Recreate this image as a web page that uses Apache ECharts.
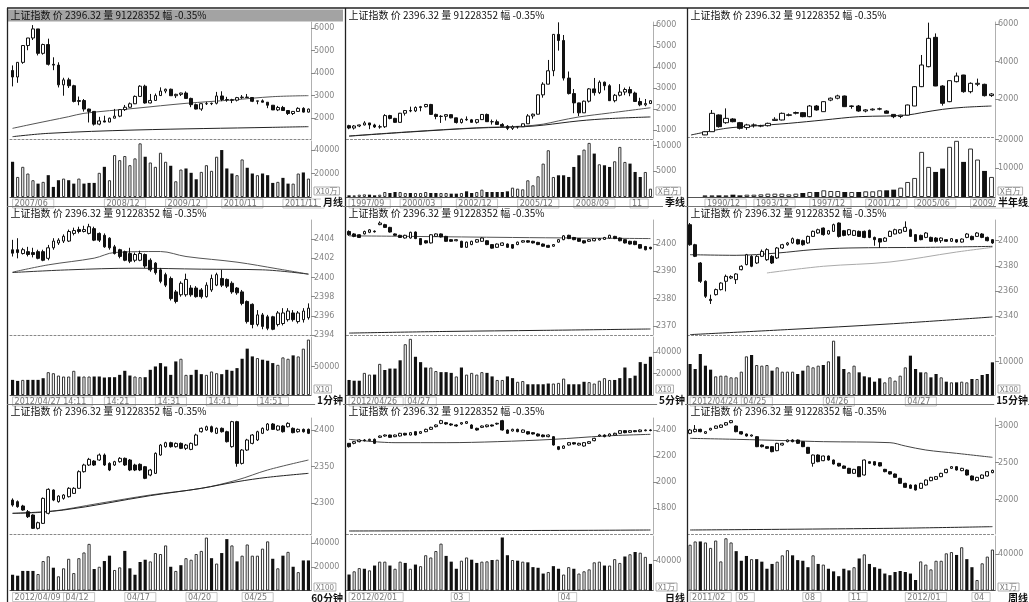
<!DOCTYPE html>
<html><head><meta charset="utf-8">
<script src="https://cdn.jsdelivr.net/npm/echarts@6/dist/echarts.min.js"></script>
<style>html,body{margin:0;padding:0;background:#fff}#c{width:1029px;height:602px}</style>
</head><body><div id="c"></div>
<script>
const TITLE = '上证指数 价 2396.32 量 91228352 幅 -0.35%';

// ---- Panel 1: 月线 ----
const p1Candles = [[4109,3820,3404,4335],[3820,4471,3563,4472],[4471,5218,4406,5219],[5218,5552,5009,5555],[5552,5955,5462,6124],[5955,4871,4778,5955],[4871,5261,4812,5300],[5261,4383,4330,5522],[4383,4348,4123,4695],[4348,3472,3357,4473],[3472,3693,2990,3786],[3693,3433,3333,3786],[3433,2736,2693,3474],[2736,2776,2566,2952],[2776,2397,2284,2842],[2397,2293,1802,2416],[2293,1728,1664,2302],[1728,1871,1678,2051],[1871,1820,1814,2100],[1820,1991,1814,2019],[1991,2082,1985,2402],[2082,2373,2037,2399],[2373,2477,2313,2579],[2477,2632,2461,2688],[2632,2959,2620,3000],[2959,3412,2948,3455],[3412,2667,2639,3478],[2667,2779,2650,3068],[2779,2996,2760,3086],[2996,3195,2980,3361],[3195,3277,3100,3306],[3277,2989,2986,3306],[2989,3051,2890,3077],[3051,3109,2976,3125],[3109,2870,2861,3181],[2870,2592,2481,2902],[2592,2398,2382,2640],[2398,2637,2319,2650],[2637,2638,2576,2717],[2638,2655,2573,2681],[2655,2978,2603,3159],[2978,2820,2748,3186],[2820,2808,2721,2940],[2808,2790,2661,2853],[2790,2905,2736,2936],[2905,2928,2847,3018],[2928,2911,2905,3067],[2911,2743,2706,2931],[2743,2762,2610,2764],[2762,2701,2695,2827],[2701,2567,2437,2710],[2567,2359,2353,2567],[2359,2468,2307,2536],[2468,2333,2319,2536],[2333,2199,2134,2339],[2199,2292,2132,2296],[2292,2428,2272,2478],[2428,2262,2242,2478],[2262,2396,2242,2420]];
const p1Volume = [30000,17100,25700,20000,14300,11400,12900,18600,8600,14300,15700,14300,11400,15700,11400,12000,12000,20600,25700,14300,35700,31400,34900,27100,32900,45700,34300,29400,25700,37700,30000,26600,13400,23400,24300,20600,15100,21400,27100,22300,34300,40000,24300,20000,18600,32000,24900,20000,18600,20000,18600,12000,12900,16300,11400,11400,20000,20900,15700];
const p1MaA = [[0,1541],[4,1734],[11,2059],[14,2207],[24,2429],[34,2651],[43,2799],[51,2947],[58,2992]];
const p1MaB = [[0,1171],[7,1319],[24,1467],[51,1586],[58,1615]];
const p1PriceTicks = [2000,3000,4000,5000,6000];
const p1VolTicks = [20000,40000];
const p1Dates = [[0,'2007/06'],[18,'2008/12'],[30,'2009/12'],[41,'2010/11'],[53,'2011/11']];

// ---- Panel 2: 季线 ----
const p2Candles = [[1210,1097,1041,1250],[1097,1194,1025,1240],[1194,1243,1140,1260],[1243,1339,1220,1422],[1339,1242,1043,1340],[1242,1147,1100,1300],[1147,1158,1064,1250],[1158,1689,1100,1756],[1689,1556,1510,1725],[1556,1367,1342,1580],[1367,1801,1361,1815],[1801,1928,1690,1929],[1928,1910,1850,2114],[1910,2073,1857,2125],[2073,2112,1893,2148],[2112,2218,2080,2242],[2218,1746,1723,2245],[1746,1646,1514,1780],[1646,1655,1339,1710],[1655,1733,1455,1748],[1733,1581,1560,1750],[1581,1358,1311,1590],[1358,1510,1311,1550],[1510,1487,1440,1649],[1487,1367,1358,1528],[1367,1497,1307,1510],[1497,1742,1492,1760],[1742,1399,1386,1783],[1399,1396,1259,1500],[1396,1267,1260,1496],[1267,1181,1165,1328],[1181,1080,998,1236],[1080,1155,1004,1223],[1155,1161,1067,1169],[1161,1299,1150,1306],[1299,1672,1290,1757],[1672,1753,1541,1787],[1753,2675,1745,2698],[2675,3183,2541,3275],[3183,3820,3175,4335],[3820,5552,3563,5555],[5552,5261,4778,6124],[5261,3472,3357,5522],[3472,2736,2693,3786],[2736,2293,1802,2952],[2293,1820,1664,2302],[1820,2373,1814,2402],[2373,2959,2313,3000],[2959,2779,2639,3478],[2779,3277,2712,3361],[3277,3109,2890,3306],[3109,2398,2382,3181],[2398,2655,2319,2717],[2655,2808,2603,3186],[2808,2928,2661,3018],[2928,2762,2610,3067],[2762,2359,2353,2827],[2359,2199,2134,2536],[2199,2262,2132,2478],[2262,2396,2242,2420]];
const p2Volume = [325,325,455,520,455,325,455,975,780,975,975,780,780,780,780,975,780,780,780,780,650,650,780,1105,780,975,1430,975,975,975,975,1105,1820,1625,1495,3250,2275,4030,6500,9100,3900,4225,4225,3900,5850,8125,9230,10530,8450,6370,6175,5850,6955,9750,6825,6500,4875,3900,4875,1625];
const p2MaA = [[0,719],[12,922],[25,1109],[34,1187],[38,1281],[41,1437],[45,1624],[51,1811],[59,2061]];
const p2MaB = [[0,710],[12,910],[25,1095],[34,1156],[38,1234],[45,1437],[51,1546],[59,1624]];
const p2PriceTicks = [1000,2000,3000,4000,5000,6000];
const p2VolTicks = [5000,10000];
const p2Dates = [[0,'1997/09'],[10,'2000/03'],[21,'2002/12'],[33,'2005/12'],[44,'2008/09'],[55,'11']];

// ---- Panel 3: 半年线 (two empty slots before the first candle) ----
const p3Candles = [[110,280,100,300],[283,1257,280,1434],[1170,550,500,1200],[760,990,700,1520],[956,814,780,1000],[761,460,400,800],[500,640,380,700],[620,640,500,720],[580,600,520,650],[600,726,560,760],[880,940,850,1050],[903,1257,880,1300],[1150,1180,1100,1250],[1260,1300,1200,1350],[1292,1080,1050,1320],[1080,1646,1050,1700],[1646,1434,1400,1700],[1345,1876,1340,1900],[1960,2060,1900,2100],[2060,2180,2000,2245],[2177,1611,1600,2200],[1620,1650,1500,1680],[1646,1380,1340,1700],[1380,1440,1310,1480],[1440,1480,1400,1520],[1480,1500,1420,1560],[1380,1260,1250,1420],[1200,1080,1000,1210],[1090,1160,1000,1180],[1160,1700,1150,1720],[1646,2673,1640,2700],[2673,3823,2650,4354],[3735,5239,3700,6071],[5292,2708,2700,5500],[2708,1788,1664,2750],[1876,2991,1850,3000],[2938,3239,2900,3420],[3292,2407,2350,3300],[2407,2850,2319,2900],[2800,2850,2700,3100],[2796,2195,2150,2830],[2200,2283,2130,2330]];
const p3Volume = [580,580,580,580,810,580,810,810,930,1160,1160,1160,930,1160,1400,1740,1740,2330,2090,2090,1740,1740,1740,1980,1980,2330,2330,2560,3260,5230,6630,15700,10470,8720,9890,17450,19540,12210,16860,13030,9070,6980];
const p3MaA = [[0,106],[5,460],[9,584],[14,726],[19,903],[24,1080],[28,1115],[31,1168],[33,1292],[36,1469],[39,1575],[43,1646]];
const p3PriceTicks = [2000,4000,6000];
const p3VolTicks = [10000,20000];
const p3Dates = [[0,'1990/12'],[7,'1993/12'],[15,'1997/12'],[23,'2001/12'],[30,'2005/06'],[38,'2009/06']];

// ---- Panel 4: 1分钟 ----
const p4Candles = [[2402.89,2402.54,2402.19,2403.93],[2402.9,2402.6,2402.0,2404.1],[2402.5,2402.9,2402.4,2403.1],[2402.7,2402.4,2402.2,2403.2],[2402.6,2402.4,2402.1,2403.1],[2402.7,2402.0,2401.9,2402.9],[2402.7,2401.8,2401.7,2402.9],[2402.0,2403.1,2401.8,2403.4],[2403.1,2403.8,2402.9,2404.1],[2403.6,2403.9,2403.4,2404.1],[2403.8,2404.3,2403.6,2404.5],[2403.8,2404.8,2403.7,2405.0],[2404.6,2404.9,2404.4,2405.2],[2405.0,2404.8,2404.6,2405.3],[2404.8,2405.0,2404.7,2405.4],[2404.6,2405.3,2404.5,2405.6],[2405.1,2403.9,2403.8,2405.3],[2404.6,2403.9,2403.7,2404.7],[2404.4,2403.2,2403.1,2404.6],[2404.1,2403.1,2402.9,2404.2],[2403.2,2402.5,2402.4,2403.4],[2402.9,2402.2,2402.0,2403.0],[2402.7,2401.8,2401.7,2402.8],[2402.5,2401.7,2401.5,2403.1],[2401.8,2402.4,2401.6,2402.6],[2401.8,2402.5,2401.7,2402.8],[2402.4,2401.2,2401.0,2402.5],[2401.8,2400.8,2400.6,2402.0],[2401.5,2400.5,2400.3,2401.6],[2400.8,2399.6,2399.4,2401.0],[2400.3,2399.2,2399.0,2400.5],[2399.9,2397.8,2397.6,2400.1],[2398.5,2397.5,2397.3,2398.7],[2398.2,2399.4,2398.0,2399.6],[2398.2,2399.8,2398.0,2400.4],[2398.9,2398.2,2398.0,2399.2],[2398.9,2398.0,2397.9,2399.1],[2398.7,2398.0,2397.8,2398.9],[2398.0,2399.2,2397.9,2399.5],[2398.7,2399.9,2398.5,2400.3],[2399.2,2400.3,2399.1,2400.5],[2399.9,2399.2,2399.0,2400.8],[2399.8,2399.1,2398.9,2399.9],[2399.4,2398.5,2398.3,2399.6],[2398.9,2398.4,2398.2,2399.0],[2398.5,2397.3,2397.1,2398.7],[2397.5,2395.4,2395.2,2397.6],[2397.2,2395.1,2394.7,2397.3],[2395.1,2396.1,2394.9,2396.6],[2396.1,2394.9,2394.6,2396.3],[2395.9,2394.7,2394.5,2396.1],[2395.9,2394.6,2394.5,2396.0],[2395.1,2396.3,2394.9,2396.5],[2395.2,2396.3,2395.0,2396.8],[2395.6,2396.5,2395.4,2396.8],[2396.3,2395.6,2395.4,2396.6],[2395.4,2396.3,2395.2,2396.5],[2395.6,2396.5,2395.3,2396.8],[2395.8,2396.8,2395.6,2397.3]];
const p4Volume = [26500,24700,26500,26500,26500,26500,29400,40000,38200,34100,32400,32400,42400,32400,32400,32400,32400,32400,30600,31200,31200,35300,42400,34100,32400,31200,31200,44100,50000,55900,50000,35300,58800,63500,35300,35300,44100,36500,35300,41200,38200,36500,44100,42400,47100,63500,81200,67600,64700,61800,60000,55900,52900,65900,63500,69400,67600,81200,97100];
const p4MaA = [[0,2400.56],[7,2401.32],[16,2402.02],[20,2402.61],[29,2402.71],[34,2402.19],[44,2401.6],[52,2400.9],[58,2400.35]];
const p4MaB = [[0,2400.52],[11,2400.8],[24,2400.97],[37,2400.87],[49,2400.8],[58,2400.35]];
const p4PriceTicks = [2394,2396,2398,2400,2402,2404];
const p4VolTicks = [50000];
const p4Dates = [[0,'2012/04/27 14:11'],[18,'14:21'],[28,'14:31'],[38,'14:41'],[48,'14:51']];

// ---- Panel 5: 5分钟 ----
const p5Candles = [[2404.6,2403.4,2403.0,2405.0],[2403.7,2402.8,2402.5,2404.0],[2403.4,2402.4,2402.2,2403.6],[2403.7,2404.6,2403.5,2404.9],[2404.3,2405.2,2404.0,2405.5],[2404.7,2404.5,2404.2,2405.0],[2407.1,2407.7,2406.9,2408.3],[2407.1,2406.1,2405.9,2407.4],[2406.1,2404.4,2404.2,2406.3],[2403.7,2403.2,2403.0,2403.9],[2403.2,2402.4,2402.2,2403.4],[2402.2,2403.2,2402.0,2403.4],[2402.2,2404.3,2402.0,2404.5],[2404.4,2402.0,2401.8,2404.6],[2402.0,2399.8,2399.6,2402.2],[2401.2,2400.4,2400.2,2401.4],[2400.4,2403.4,2400.2,2403.6],[2402.8,2403.7,2402.6,2403.9],[2403.7,2402.6,2402.4,2403.9],[2402.8,2401.0,2400.8,2403.0],[2401.6,2401.0,2400.8,2401.8],[2401.2,2401.6,2401.0,2401.8],[2401.0,2398.8,2398.6,2401.2],[2398.8,2400.7,2398.6,2400.9],[2399.8,2401.0,2399.6,2401.2],[2400.7,2401.6,2400.5,2401.8],[2401.0,2402.2,2400.8,2402.4],[2401.2,2399.8,2399.6,2401.4],[2399.8,2398.5,2398.3,2400.0],[2398.8,2400.0,2398.6,2400.2],[2399.5,2400.4,2399.3,2400.6],[2400.0,2398.8,2398.6,2400.2],[2399.8,2398.5,2398.3,2400.0],[2399.8,2400.7,2399.6,2400.9],[2400.7,2401.2,2400.5,2401.4],[2401.2,2400.7,2400.5,2401.4],[2401.0,2400.4,2400.2,2401.2],[2400.6,2399.8,2399.6,2400.8],[2400.0,2399.2,2399.0,2400.2],[2399.5,2398.8,2398.6,2399.7],[2399.2,2399.8,2399.0,2400.0],[2400.7,2401.6,2400.5,2401.8],[2401.6,2403.0,2401.4,2403.3],[2403.2,2402.0,2401.8,2403.4],[2402.4,2401.6,2401.4,2402.6],[2402.0,2401.0,2400.8,2402.2],[2401.2,2400.4,2400.2,2401.4],[2401.0,2401.6,2400.8,2401.8],[2401.2,2402.0,2401.0,2402.2],[2401.5,2402.0,2401.3,2402.2],[2401.7,2402.4,2401.5,2402.6],[2402.2,2403.2,2402.0,2403.4],[2402.8,2402.0,2401.8,2403.0],[2402.2,2401.2,2401.0,2402.4],[2401.6,2400.4,2400.2,2401.8],[2401.0,2400.0,2399.8,2401.2],[2401.0,2399.8,2399.6,2401.2],[2399.8,2398.5,2398.3,2400.0],[2399.1,2397.9,2397.7,2399.3],[2398.8,2398.3,2398.0,2399.0]];
const p5Volume = [14000,13300,13300,20600,19000,19000,29000,23300,24600,24600,32300,47300,52300,35600,30600,25600,25600,22300,21300,21300,20600,17300,25600,19000,20600,19000,21300,20600,17300,14000,14000,17300,15700,12300,13000,10000,10000,10000,10000,10700,10700,11300,15300,10000,10000,10000,12300,12000,10700,13300,15700,14000,14000,15700,25600,15700,18000,30600,29000,35600];
const p5MaA = [[0,2403.0],[12,2402.8],[32,2402.4],[45,2402.2],[59,2402.0]];
const p5MaB = [[0,2367.4],[19,2368.0],[38,2368.4],[59,2368.9]];
const p5PriceTicks = [2370,2380,2390,2400];
const p5VolTicks = [20000,40000];
const p5Dates = [[0,'2012/04/26'],[11,'04/27']];

// ---- Panel 6: 15分钟 ----
const p6Candles = [[2412.7,2396.8,2396,2414],[2396.8,2387.6,2387,2397.5],[2382.3,2367.8,2366.5,2383],[2367.8,2355.9,2354.6,2368.5],[2353.5,2352.5,2349.8,2357.2],[2357.2,2361.2,2356.5,2362],[2361.2,2366.4,2360.5,2367],[2367.8,2371.7,2359.8,2373.1],[2370.4,2371.5,2369.5,2372.5],[2369.1,2373.6,2365.7,2374.2],[2377.0,2379.7,2376.5,2380.5],[2381.0,2388.9,2380.5,2389.5],[2387.6,2379.7,2379,2388.5],[2382.3,2387.6,2381.5,2388.5],[2387.6,2391.5,2387,2393],[2384.9,2392.9,2384,2394],[2387.6,2382.3,2381.5,2388.5],[2386.3,2394.2,2385.5,2395],[2394.2,2396.8,2393.5,2397.5],[2396.8,2398.2,2396,2399],[2398.2,2401.6,2397.5,2402.5],[2400.8,2397.4,2397,2401.5],[2400.0,2396.8,2396,2400.8],[2398.2,2403.4,2397.5,2404],[2403.4,2407.4,2403,2408],[2406.1,2408.7,2405.5,2409.5],[2410.0,2404.8,2404,2410.5],[2405.3,2407.9,2404.8,2408.5],[2407.4,2412.7,2407,2413.5],[2414.0,2403.4,2402.5,2414.5],[2407.9,2404.2,2403.5,2408.5],[2404.8,2408.7,2404,2409.2],[2404.2,2407.9,2403.8,2408.5],[2407.4,2403.4,2403,2408],[2407.4,2402.6,2402,2408],[2408.2,2402.6,2402,2408.8],[2402.6,2400.8,2396,2403.2],[2401.6,2398.9,2394.2,2402],[2399.5,2402.1,2399,2402.8],[2403.4,2407.4,2403,2408],[2405.3,2408.7,2405,2409.5],[2406.1,2408.7,2405.5,2409.2],[2407.4,2410.6,2407,2415.3],[2408.7,2403.4,2403,2409.5],[2404.8,2399.5,2399,2405.3],[2404.2,2400.8,2400.3,2404.8],[2402.6,2406.1,2402,2406.8],[2402.6,2399.5,2399,2403.2],[2402.1,2399.5,2398.5,2402.8],[2400.0,2402.1,2398.2,2402.6],[2400.8,2399.5,2399,2401.3],[2399.5,2401.6,2399,2402.1],[2400.8,2398.9,2398.4,2401.3],[2398.9,2401.3,2398.4,2401.8],[2402.6,2405.3,2402,2406],[2403.4,2400.8,2400.3,2404],[2403.4,2406.1,2403,2406.8],[2405.3,2402.6,2402,2406],[2402.6,2400.0,2399.5,2403.2],[2400.8,2398.2,2397.5,2401.3]];
const p6Volume = [9300,7800,12300,8800,7600,5600,5800,5800,5300,5300,7000,11600,12000,9000,8800,9000,7300,8300,7000,7000,7000,6300,7300,8800,8300,8800,9000,10100,16300,11600,7800,6800,8800,6800,5600,5300,4000,5000,3800,5300,4300,5800,8300,11800,7800,6800,6800,5300,6300,5300,4000,3800,3800,4000,3800,4800,4800,6000,6300,9800];
const p6MaA = [[0,2388.9],[9,2388.4],[17,2390.2],[24,2392.9],[31,2394.2],[46,2394.7],[59,2395.5]];
const p6MaB = [[15,2374.4],[26,2379.7],[39,2383.1],[52,2391.0],[59,2394.7]];
const p6MaC = [[0,2325.5],[19,2329.5],[39,2334.0],[59,2339.5]];
const p6PriceTicks = [2340,2360,2380,2400];
const p6VolTicks = [10000];
const p6Dates = [[0,'2012/04/24'],[10,'04/25'],[26,'04/26'],[42,'04/27']];

// ---- Panel 7: 60分钟 ----
const p7Candles = [[2304.5,2297.7,2295.5,2306.8],[2302.3,2295.5,2294,2304],[2296.4,2290.9,2290,2298],[2288.6,2281.8,2280,2290.9],[2284.1,2265.9,2265,2285],[2265.9,2273.6,2264.4,2275],[2272.7,2306.8,2272,2308],[2286.4,2319.1,2285,2320.5],[2318.2,2304.5,2303,2319],[2302.3,2310.0,2301,2311],[2306.8,2311.4,2305,2312.5],[2309.1,2320.5,2308,2322],[2313.6,2320.5,2313,2322],[2320.5,2343.2,2320,2345],[2343.2,2352.3,2342,2354],[2352.3,2360.0,2351,2362],[2357.7,2352.3,2351,2359],[2359.1,2365.9,2358,2368],[2365.9,2352.3,2351,2368],[2354.5,2345.5,2344,2356],[2352.3,2356.8,2351,2358],[2356.8,2361.4,2355.5,2363],[2361.4,2352.3,2351,2362.5],[2359.1,2345.5,2344,2360.5],[2352.3,2345.5,2344,2354],[2353.2,2345.5,2344,2354.5],[2350.0,2334.1,2333,2351],[2338.6,2345.5,2337,2347],[2340.9,2368.2,2340,2369.5],[2365.9,2379.5,2365,2381],[2377.3,2382.7,2376,2384],[2382.7,2377.3,2376,2384],[2377.3,2381.8,2376,2383],[2381.8,2375.0,2374,2383],[2375.0,2379.5,2372.7,2381],[2373.6,2381.8,2372.5,2383],[2379.5,2393.2,2378.5,2395],[2397.7,2402.3,2396.5,2403.5],[2400.0,2404.5,2399,2406],[2404.5,2397.7,2396.5,2406],[2395.5,2402.3,2394.5,2403.5],[2402.3,2397.7,2396.5,2403.5],[2397.7,2384.1,2383,2399],[2377.3,2411.4,2376,2412.5],[2411.4,2354.5,2350,2412.5],[2354.5,2372.7,2353,2374],[2372.7,2386.4,2371.5,2388],[2381.8,2393.2,2380.5,2394.5],[2386.4,2397.7,2385,2399],[2395.5,2402.3,2394.5,2403.5],[2400.0,2408.2,2399,2409.5],[2408.2,2400.9,2400,2409.5],[2400.0,2405.5,2399,2406.5],[2405.5,2397.7,2396.5,2406.5],[2404.5,2409.1,2403.5,2410.5],[2402.3,2396.4,2395.5,2403.5],[2397.7,2400.9,2396.5,2402],[2400.9,2397.7,2396.5,2402],[2400.9,2395.5,2394.5,2402]];
const p7Volume = [13300,12500,16500,16500,16500,13900,24800,28800,19200,12000,18700,26700,14700,27200,32000,39200,18100,20000,24800,29300,17300,19500,33300,18700,13300,24000,25900,24500,31500,30700,37900,20000,16500,21300,27200,25900,30700,33300,44500,27200,22700,31500,43200,37900,24500,29300,38700,29300,29300,35200,41300,26700,18700,29300,32500,20000,15500,25300,25300];
const p7MaA = [[0,2286.4],[7,2288.6],[17,2300],[27,2311.4],[37,2320.5],[44,2331.8],[50,2345.5],[58,2359.1]];
const p7MaB = [[0,2286.4],[10,2290.9],[27,2310.5],[37,2320.5],[44,2329.5],[50,2335.5],[58,2340.9]];
const p7PriceTicks = [2300,2350,2400];
const p7VolTicks = [20000,40000];
const p7Dates = [[0,'2012/04/09'],[10,'04/12'],[22,'04/17'],[34,'04/20'],[45,'04/25']];

// ---- Panel 8: 日线 ----
const p8Candles = [[2297.4,2271.8,2265,2300],[2297.4,2310.3,2290,2315],[2310.3,2323.1,2305,2328],[2323.1,2317.9,2312,2330],[2317.9,2328.2,2312,2333],[2328.2,2297.4,2292,2335],[2343.6,2353.8,2338,2358],[2353.8,2361.5,2348,2366],[2361.5,2343.6,2340,2364],[2348.7,2361.5,2345,2365],[2353.8,2374.4,2350,2378],[2374.4,2361.5,2358,2378],[2361.5,2379.5,2358,2383],[2387.2,2361.5,2358,2390],[2374.4,2387.2,2370,2391],[2387.2,2405.1,2383,2410],[2405.1,2420.5,2400,2425],[2425.6,2438.5,2420,2443],[2451.3,2471.8,2445,2478],[2456.4,2446.2,2440,2462],[2446.2,2438.5,2432,2452],[2438.5,2430.8,2425,2444],[2446.2,2456.4,2440,2460],[2451.3,2464.1,2446,2468],[2438.5,2412.8,2408,2444],[2412.8,2400,2395,2418],[2420.5,2430.8,2415,2435],[2425.6,2438.5,2420,2442],[2438.5,2430.8,2426,2442],[2446.2,2451.3,2440,2456],[2471.8,2400,2395,2478],[2400,2374.4,2370,2405],[2392.3,2405.1,2388,2410],[2405.1,2387.2,2383,2410],[2382.1,2400,2378,2404],[2387.2,2369.2,2365,2392],[2379.5,2369.2,2365,2384],[2369.2,2353.8,2350,2374],[2361.5,2348.7,2344,2366],[2348.7,2361.5,2344,2366],[2348.7,2284.6,2280,2353],[2271.8,2251.3,2245,2276],[2259.0,2276.9,2254,2282],[2284.6,2302.6,2280,2307],[2302.6,2292.3,2288,2307],[2284.6,2297.4,2280,2302],[2276.9,2302.6,2272,2307],[2297.4,2310.3,2292,2315],[2317.9,2335.9,2313,2340],[2353.8,2361.5,2349,2366],[2361.5,2348.7,2344,2366],[2353.8,2369.2,2349,2374],[2361.5,2374.4,2357,2379],[2374.4,2394.9,2370,2399],[2394.9,2379.5,2375,2399],[2382.1,2394.9,2378,2399],[2394.9,2387.2,2383,2399],[2387.2,2400,2383,2404],[2394.9,2400,2390,2404],[2400,2396.3,2390,2405]];
const p8Volume = [21500,25800,30100,29200,27100,33500,38700,38700,33500,29200,38700,37000,29200,34800,32700,47300,44300,52900,62800,46400,38700,29200,40000,44300,41300,37000,38700,39100,40900,41300,71000,47300,40900,40000,38700,37800,31400,30500,22800,24900,32700,29200,21500,31400,29200,22800,25800,28400,37800,38700,33500,33500,42100,37000,45600,48600,51600,50700,45100,35700];
const p8MaA = [[0,2328.2],[9,2302.6],[19,2302.6],[29,2310.3],[40,2328.2],[50,2353.8],[59,2366.7]];
const p8MaB = [[0,1623.1],[46,1628.2],[59,1630.8]];
const p8PriceTicks = [1800,2000,2200,2400];
const p8VolTicks = [40000];
const p8Dates = [[0,'2012/02/01'],[20,'03'],[41,'04']];

// ---- Panel 9: 周线 ----
const p9Candles = [[2896,2941,2885,2955],[2918.5,2950,2910,3008],[2950,2918.5,2910,2958],[2896,2918.5,2888,2925],[2941,2963.5,2935,2970],[2963.5,2995,2958,3000],[2977,3008.5,2970,3015],[3008.5,3040,3000,3048],[3040,3067,3032,3075],[2995,2918.5,2910,3002],[2918.5,2887,2880,2925],[2887,2860,2852,2893],[2860,2873.5,2852,2880],[2851,2716,2710,2860],[2738.5,2716,2706,2745],[2716,2693.5,2685,2722],[2716,2648.5,2640,2722],[2662,2761,2655,2768],[2738.5,2761,2730,2768],[2783.5,2806,2775,2812],[2806,2783.5,2775,2815],[2806,2761,2752,2812],[2783.5,2716,2710,2790],[2707,2626,2618,2712],[2491,2603.5,2446,2610],[2603.5,2513.5,2505,2612],[2527,2590,2520,2596],[2590,2536,2528,2596],[2536,2482,2475,2542],[2491,2455,2448,2497],[2455,2423.5,2416,2461],[2423.5,2356,2348,2430],[2356,2410,2348,2416],[2446,2311,2305,2452],[2333.5,2536,2326,2542],[2513.5,2491,2484,2520],[2513.5,2468.5,2461,2520],[2500,2455,2448,2506],[2410,2378.5,2370,2416],[2378.5,2347,2340,2385],[2347,2302,2295,2353],[2288.5,2221,2214,2295],[2221,2167,2160,2228],[2198.5,2153.5,2146,2205],[2198.5,2131,2125,2205],[2153.5,2221,2146,2228],[2198.5,2266,2191,2273],[2257,2302,2250,2309],[2275,2311,2268,2318],[2311,2356,2304,2363],[2365,2410,2358,2417],[2423.5,2446,2416,2452],[2446,2401,2394,2452],[2392,2423.5,2385,2430],[2401,2333.5,2326,2408],[2320,2266,2259,2327],[2257,2302,2250,2309],[2288.5,2333.5,2281,2340],[2320,2378.5,2313,2385],[2365,2396,2358,2405]];
const p9Volume = [50600,54200,54200,53100,47100,55200,32200,57700,53100,43500,32900,38200,34700,34700,31900,24100,29400,31900,38900,44600,38900,33600,32900,25800,38900,29400,28700,24100,21200,15900,24100,22300,25800,35400,40000,29400,25800,24100,18800,17000,20500,21600,20500,18800,11700,32200,28700,23400,32900,32900,41100,42500,39300,47800,34700,25800,11700,30100,37500,45300];
const p9MaA = [[0,2828.5],[9,2815],[19,2797],[26,2783.5],[39,2770],[42,2725],[46,2671],[52,2626],[59,2572]];
const p9MaB = [[0,1591],[39,1613.5],[59,1636]];
const p9PriceTicks = [2000,2500,3000];
const p9VolTicks = [40000];
const p9Dates = [[0,'2011/02'],[9,'05'],[22,'08'],[31,'11'],[42,'2012/01'],[55,'04']];

// ---- layout ----
const COLS = [
  {border:7.5, left:10, width:301, end:343},
  {border:345.5, left:346.5, width:306.5, end:685},
  {border:687.5, left:687.5, width:307.5, end:1028}
];
const ROWS = [
  {titleY:15.5, cTop:22, cH:117, vTop:141, vH:56, sep:206.5},
  {titleY:213, cTop:220, cH:115, vTop:337, vH:58, sep:404.5},
  {titleY:411, cTop:418, cH:116, vTop:536, vH:57, sep:null}
];
const PANELS = [
  {row:0,col:0,candles:p1Candles,volume:p1Volume,mas:[[p1MaA,'#555'],[p1MaB,'#222']],yMin:1068,yMax:6262,yTicks:p1PriceTicks,vMax:47700,vTicks:p1VolTicks,dates:p1Dates,period:'月线',unit:'X10万',lead:0,bw:'62%'},
  {row:0,col:1,candles:p2Candles,volume:p2Volume,mas:[[p2MaA,'#555'],[p2MaB,'#222']],yMin:575,yMax:6140,yTicks:p2PriceTicks,vMax:10900,vTicks:p2VolTicks,dates:p2Dates,period:'季线',unit:'X百万',lead:0,bw:'62%'},
  {row:0,col:2,candles:p3Candles,volume:p3Volume,mas:[[p3MaA,'#222']],yMin:-106,yMax:6106,yTicks:p3PriceTicks,vMax:20000,vTop:139.5,vTicks:p3VolTicks,dates:p3Dates,period:'半年线',unit:'X百万',lead:2,bw:'70%'},
  {row:1,col:0,candles:p4Candles,volume:p4Volume,mas:[[p4MaA,'#555'],[p4MaB,'#333']],yMin:2394,yMax:2406,yTicks:p4PriceTicks,vMax:101600,vTicks:p4VolTicks,dates:p4Dates,period:'1分钟',unit:'X10',lead:0,bw:'62%'},
  {row:1,col:1,candles:p5Candles,volume:p5Volume,mas:[[p5MaA,'#555'],[p5MaB,'#222']],yMin:2366.7,yMax:2408.8,yTicks:p5PriceTicks,vMax:54000,vTicks:p5VolTicks,dates:p5Dates,period:'5分钟',unit:'X10',lead:0,bw:'62%'},
  {row:1,col:2,candles:p6Candles,volume:p6Volume,mas:[[p6MaA,'#333'],[p6MaB,'#aaa'],[p6MaC,'#222']],yMin:2325.2,yMax:2416.4,yTicks:p6PriceTicks,vMax:17400,vTicks:p6VolTicks,dates:p6Dates,period:'15分钟',unit:'X100',lead:0,bw:'62%'},
  {row:2,col:0,candles:p7Candles,volume:p7Volume,mas:[[p7MaA,'#555'],[p7MaB,'#222']],yMin:2258.2,yMax:2416.4,yTicks:p7PriceTicks,vMax:45800,vTicks:p7VolTicks,dates:p7Dates,period:'60分钟',unit:'X100',lead:0,bw:'62%'},
  {row:2,col:1,candles:p8Candles,volume:p8Volume,mas:[[p8MaA,'#444'],[p8MaB,'#222']],yMin:1600,yMax:2492.3,yTicks:p8PriceTicks,vMax:73000,vTicks:p8VolTicks,dates:p8Dates,period:'日线',unit:'X1万',lead:0,bw:'62%'},
  {row:2,col:2,candles:p9Candles,volume:p9Volume,mas:[[p9MaA,'#444'],[p9MaB,'#222']],yMin:1537,yMax:3103,yTicks:p9PriceTicks,vMax:60200,vTicks:p9VolTicks,dates:p9Dates,period:'周线',unit:'X1万',lead:0,bw:'62%'}
];

const grid=[], xAxis=[], yAxis=[], series=[], graphic=[];
const FONT = '"Noto Sans CJK SC", "DejaVu Sans", sans-serif';
const plain = v => String(v);

// selected panel header bar
graphic.push({type:'rect', shape:{x:8, y:9.5, width:335, height:12}, style:{fill:'#a3a3a3'}, silent:true, z:0});

PANELS.forEach((p,k)=>{
  const c = COLS[p.col], r = ROWS[p.row];
  const n = p.lead + p.candles.length;
  const cats = Array.from({length:n}, (_,i)=>String(i));
  const vTop = p.vTop !== undefined ? p.vTop : r.vTop;
  const vH = r.vTop + r.vH - vTop;
  grid.push({left:c.left, width:c.width, top:r.cTop, height:r.cH});
  grid.push({left:c.left, width:c.width, top:vTop, height:vH});
  const gi = 2*k, gv = 2*k+1;
  const dateMap = {};
  p.dates.forEach(([i,t])=>{ dateMap[i+p.lead] = t; });
  xAxis.push({gridIndex:gi, type:'category', data:cats, boundaryGap:true,
    axisTick:{show:false}, axisLabel:{show:false}, splitLine:{show:false},
    axisLine:{show:true, lineStyle:{color:'#888', type:[2,2], width:1}}});
  xAxis.push({gridIndex:gv, type:'category', data:cats, boundaryGap:true,
    axisTick:{show:false}, splitLine:{show:false},
    axisLine:{show:true, lineStyle:{color:'#555', width:1}},
    axisLabel:{show:true, interval:0, margin:2, align:'left',
      formatter:(v,i)=> dateMap[i] ? '{b|'+dateMap[i]+'}' : '',
      rich:{b:{fontSize:8, color:'#777', fontFamily:'DejaVu Sans', borderColor:'#b5b5b5', borderWidth:0.8, padding:[1,6,0,2]}}}});
  const axisCommon = {type:'value', position:'right', splitLine:{show:false},
    axisLine:{show:true, lineStyle:{color:'#b0b0b0'}}};
  yAxis.push(Object.assign({gridIndex:gi, min:p.yMin, max:p.yMax,
    axisTick:{show:true, customValues:p.yTicks, length:4, lineStyle:{color:'#888'}},
    axisLabel:{customValues:p.yTicks, formatter:plain, fontSize:8, color:'#858585', margin:3, fontFamily:'DejaVu Sans'}}, axisCommon));
  yAxis.push(Object.assign({gridIndex:gv, min:0, max:p.vMax,
    axisTick:{show:true, customValues:p.vTicks, length:4, lineStyle:{color:'#888'}},
    axisLabel:{customValues:p.vTicks, formatter:plain, fontSize:8, color:'#858585', margin:3, fontFamily:'DejaVu Sans'}}, axisCommon));

  const lead = Array.from({length:p.lead}, ()=>['-','-','-','-']);
  series.push({type:'candlestick', xAxisIndex:gi, yAxisIndex:gi, data:lead.concat(p.candles),
    barWidth:p.bw, silent:true,
    itemStyle:{color:'#ffffff', color0:'#111', borderColor:'#111', borderColor0:'#111', borderWidth:1}});
  p.mas.forEach(([d,col])=>{
    series.push({type:'line', xAxisIndex:gi, yAxisIndex:gi, data:d, symbol:'none', smooth:0.35, silent:true,
      lineStyle:{color:col, width:1}, z:1});
  });
  const volData = Array.from({length:p.lead}, ()=>'-').concat(p.volume.map((v,i)=>{
    const cd = p.candles[i];
    const up = cd[1] >= cd[0];
    return {value:v, itemStyle: up ? {color:'#ffffff', borderColor:'#333', borderWidth:1} : {color:'#111', borderColor:'#111', borderWidth:0}};
  }));
  series.push({type:'bar', xAxisIndex:gv, yAxisIndex:gv, data:volData, barWidth:p.bw, silent:true});

  graphic.push({type:'text', x:c.border+3, y:r.titleY, silent:true, z:10,
    style:{text:TITLE, font:'10px '+FONT, fill:'#111', textVerticalAlign:'middle'}});
  const dateRowY = r.vTop + r.vH + 5.5;
  graphic.push({type:'text', x:c.end, y:dateRowY, silent:true, z:10,
    style:{text:p.period, font:'bold 10px '+FONT, fill:'#111', textAlign:'right', textVerticalAlign:'middle', backgroundColor:'#fff', padding:[0,0,0,2]}});
  graphic.push({type:'text', x:c.left+c.width+3, y:r.vTop+r.vH-6, silent:true, z:10,
    style:{text:p.unit, font:'8px '+FONT, fill:'#777', textVerticalAlign:'middle', borderColor:'#999', borderWidth:0.8, padding:[0,2,0,2]}});
});

graphic.push({type:'line', shape:{x1:7, y1:8, x2:1029, y2:8}, style:{stroke:'#222', lineWidth:1.5}, silent:true, z:5});
COLS.forEach(c=>{
  graphic.push({type:'line', shape:{x1:c.border, y1:8, x2:c.border, y2:602}, style:{stroke:'#222', lineWidth:1.3}, silent:true, z:5});
});
ROWS.forEach(r=>{
  if (r.sep) graphic.push({type:'line', shape:{x1:7, y1:r.sep, x2:1029, y2:r.sep}, style:{stroke:'#777', lineWidth:1}, silent:true, z:5});
});

const chart = echarts.init(document.getElementById('c'), null, {renderer:'canvas'});
chart.setOption({animation:false, backgroundColor:'#fff', grid, xAxis, yAxis, series, graphic});
</script></body></html>
